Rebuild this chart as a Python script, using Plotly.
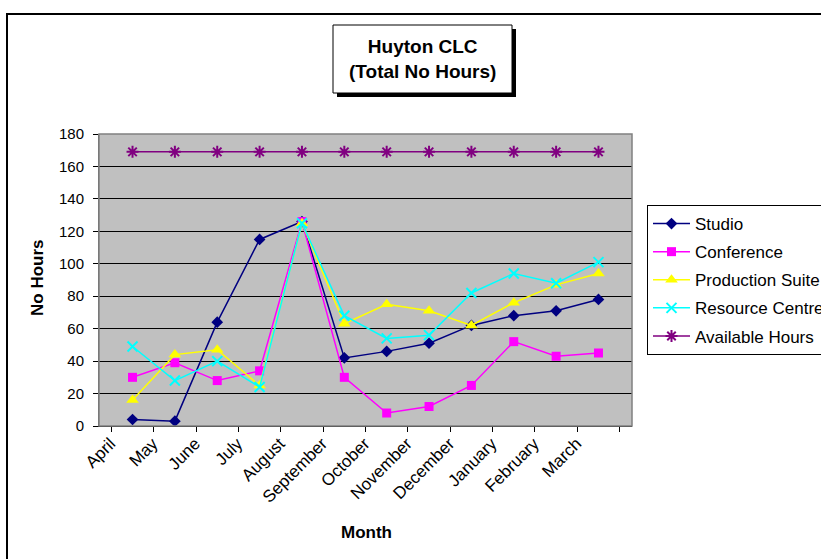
import plotly.graph_objects as go

months = ["April", "May", "June", "July", "August", "September", "October",
          "November", "December", "January", "February", "March"]
studio = [4, 3, 64, 115, 126, 42, 46, 51, 62, 68, 71, 78]
conference = [30, 39, 28, 34, 126, 30, 8, 12, 25, 52, 43, 45]
production = [16, 44, 47, 25, 125, 63, 75, 71, 62, 76, 87, 94]
resource = [49, 28, 40, 24, 125, 68, 54, 56, 82, 94, 88, 101]
available = [169] * 12

FONT = "Liberation Sans, Arial, sans-serif"

series = [
    ("Studio", studio, "#000080", "diamond", 9, None),
    ("Conference", conference, "#FF00FF", "square", 9, None),
    ("Production Suite", production, "#FFFF00", "triangle-up", 11, None),
    ("Resource Centre", resource, "#00FFFF", "x-thin", 10, 2),
    ("Available Hours", available, "#800080", "asterisk", 10, 2),
]

fig = go.Figure()
for i, (name, vals, col, sym, size, lw) in enumerate(series):
    marker = dict(symbol=sym, size=size, color=col)
    if lw:
        marker["line"] = dict(color=col, width=lw)
    fig.add_trace(go.Scatter(
        x=months, y=vals, name=name, mode="lines+markers",
        line=dict(color=col, width=1.5), marker=marker,
        legendgroup=f"g{i}",
    ))

L, R, T, B = 99, 632, 134, 426
W, H = 821, 559
pw, ph = R - L, B - T

def px(x):
    return (x - L) / pw

def py(y):
    return (B - y) / ph

fig.update_layout(
    width=W, height=H,
    margin=dict(l=L, r=W - R, t=T, b=H - B, pad=0, autoexpand=False),
    paper_bgcolor="white", plot_bgcolor="#C0C0C0",
    font=dict(family=FONT, size=14, color="black"),
    showlegend=True,
    legend=dict(
        xref="container", yref="container",
        x=647 / W, y=1 - 205 / H, xanchor="left", yanchor="top",
        bgcolor="white", bordercolor="black", borderwidth=1,
        font=dict(size=17, family=FONT), tracegroupgap=3,
        traceorder="grouped", itemwidth=37,
    ),
    xaxis=dict(
        type="category", tickangle=-45, ticks="outside", tickson="boundaries",
        ticklen=5, tickcolor="black", showline=True, linecolor="black",
        mirror=False, showgrid=False, tickfont=dict(size=17, family=FONT),
        automargin=False, ticklabelshift=-22,
    ),
    yaxis=dict(
        range=[0, 180], dtick=20, ticks="outside", ticklen=5, tickcolor="black",
        showline=True, linecolor="#606060", showgrid=True, gridcolor="black",
        gridwidth=1, zeroline=False, tickfont=dict(size=15, family=FONT),
        automargin=False, ticklabelstandoff=6,
    ),
    shapes=[
        # outer chart frame
        dict(type="rect", xref="paper", yref="paper",
             x0=px(7), x1=px(840), y0=py(575), y1=py(14),
             line=dict(color="black", width=2), layer="below"),
        # plot area border (top/right)
        dict(type="rect", xref="paper", yref="paper", x0=0, x1=1, y0=0, y1=1,
             line=dict(color="#808080", width=1.5), layer="above"),
        # title shadow
        dict(type="rect", xref="paper", yref="paper",
             x0=px(337), x1=px(516), y0=py(97), y1=py(29),
             fillcolor="black", line=dict(width=0)),
        # title box
        dict(type="rect", xref="paper", yref="paper",
             x0=px(333), x1=px(512), y0=py(93), y1=py(25),
             fillcolor="white", line=dict(color="black", width=1)),
    ],
    annotations=[
        dict(text="<b>Huyton CLC<br>(Total No Hours)</b>", xref="paper", yref="paper",
             x=px(422.5), y=py(59), xanchor="center", yanchor="middle",
             showarrow=False, font=dict(size=19, family=FONT)),
        dict(text="<b>No Hours</b>", xref="paper", yref="paper",
             x=px(37), y=py(278), xanchor="center", yanchor="middle",
             textangle=-90, showarrow=False, font=dict(size=17, family=FONT)),
        dict(text="<b>Month</b>", xref="paper", yref="paper",
             x=px(366), y=py(532), xanchor="center", yanchor="middle",
             showarrow=False, font=dict(size=17, family=FONT)),
    ],
)

fig.write_html("out.html", config={"displayModeBar": False},
               post_script="document.body.style.margin='0';")
